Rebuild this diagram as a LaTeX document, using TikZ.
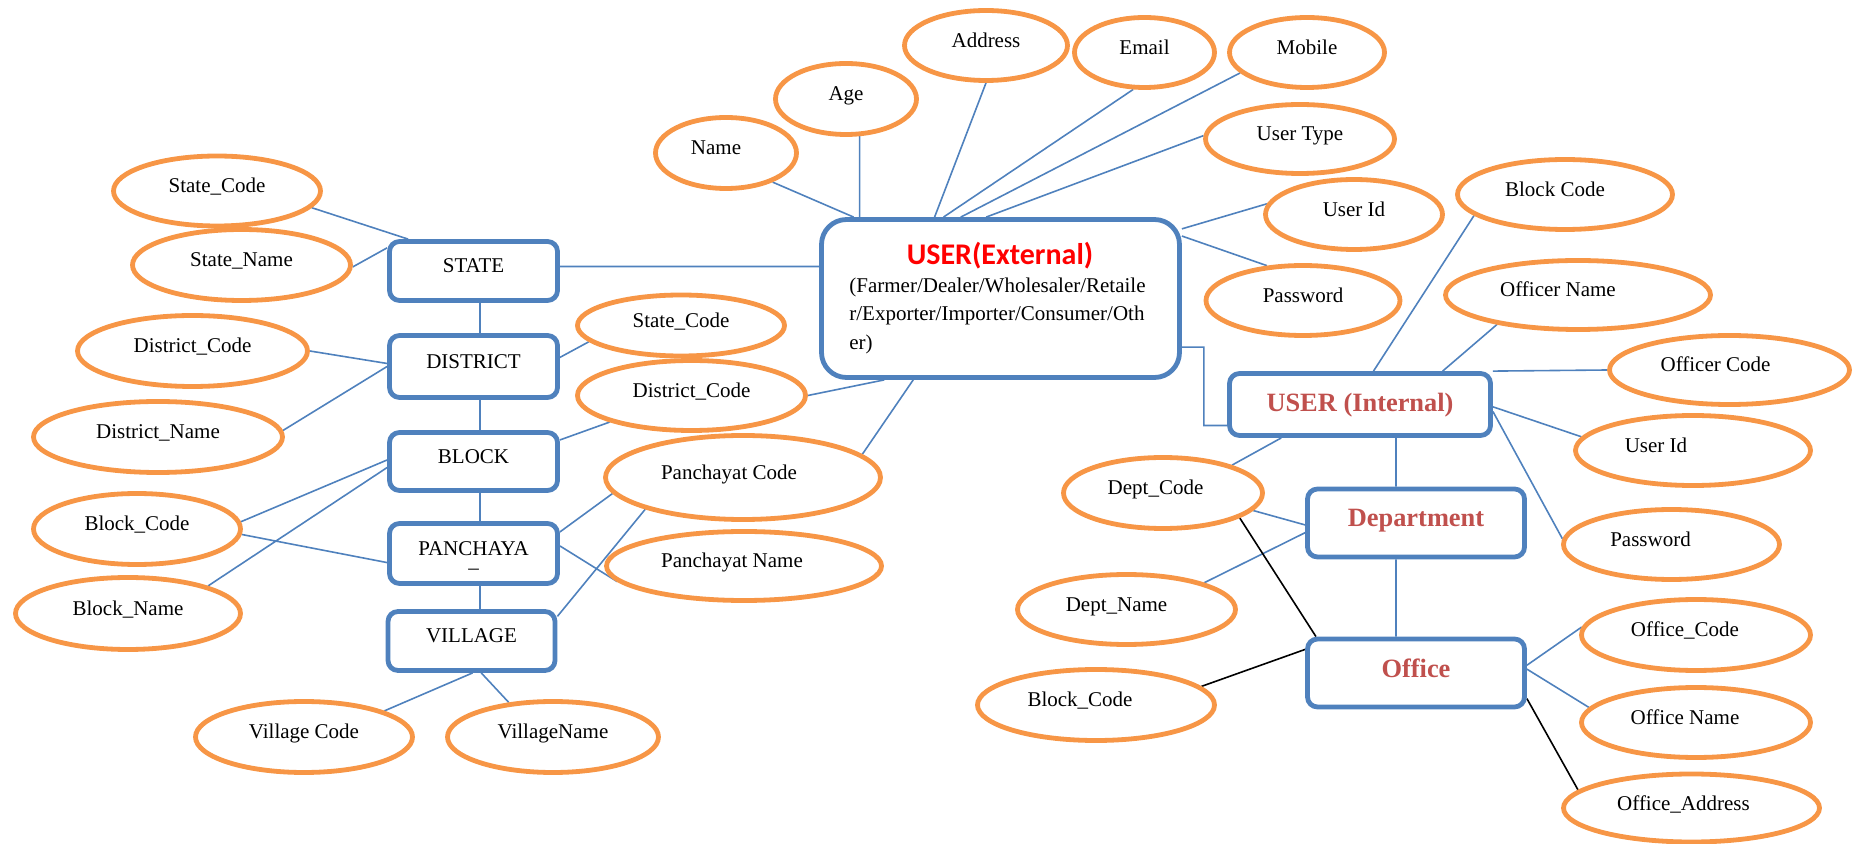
\documentclass[tikz,border=0pt]{standalone}
\usepackage{fontspec}
\setmainfont{Liberation Serif}
\newfontfamily\titlefont{Carlito}
\usetikzlibrary{shapes.geometric}
\definecolor{erblue}{HTML}{4F81BD}
\definecolor{erorange}{HTML}{F79646}
\definecolor{erred}{HTML}{FF0000}
\definecolor{erbrick}{HTML}{C0504D}
\pgfdeclarelayer{background}
\pgfsetlayers{background,main}
\tikzset{
  attr/.style={ellipse, draw=erorange, line width=2.4pt, fill=white, inner sep=0pt,
    font=\fontsize{10.5}{12.6}\selectfont, text height=7pt, text depth=5pt},
  sz/.style 2 args={minimum width=#1pt, minimum height=#2pt},
  entity/.style={rectangle, rounded corners=5pt, draw=erblue, line width=2.4pt, fill=white,
    inner sep=0pt, font=\fontsize{10.5}{12.6}\selectfont, text height=7pt, text depth=5pt},
  bigentity/.style={entity, font=\fontsize{13.2}{15}\selectfont\bfseries, text=erbrick,
    text height=9pt, text depth=5pt},
  plain/.style={inner sep=0pt, font=\fontsize{10.5}{12.6}\selectfont},
  link/.style={draw=erblue, line width=0.8pt},
  blink/.style={draw=black, line width=0.8pt},
}
\begin{document}
\begin{tikzpicture}[x=0.5pt,y=-0.5pt]
\useasboundingbox (0,0) rectangle (1860,844);

% left hierarchy: state / district / block / panchayat / village
\node[entity, sz={84}{29.5}] (state) at (473.5,271) {STATE};
\node[entity, sz={84}{31}] (district) at (473.5,366.5) {DISTRICT};
\node[entity, sz={84}{29}] (block) at (473.5,461.5) {BLOCK};
% the entity name wraps: its last character falls onto a second line
\node[entity, sz={84}{30}] (panch) at (473.5,553.5)
  {\ooalign{PANCHAYA\cr\hfil\raisebox{-6.25pt}{\_}\hfil\cr}};
\node[entity, sz={83.5}{29.5}] (village) at (471.5,641) {VILLAGE};

\node[attr, sz={103.5}{35}] (scode) at (217,191) {State\_Code};
\node[attr, sz={109}{35.5}] (sname) at (241.5,265) {State\_Name};
\node[attr, sz={115}{35.5}] (dcode) at (192.5,351) {District\_Code};
\node[attr, sz={124.5}{35.5}] (dname) at (158,437) {District\_Name};
\node[attr, sz={103.5}{35.5}] (bcode) at (137,529) {Block\_Code};
\node[attr, sz={112.5}{36}] (bname) at (128,613.5) {Block\_Name};
\node[attr, sz={108.5}{35.5}] (vcode) at (304,737) {Village Code};
\node[attr, sz={105.5}{35.5}] (vname) at (553,737) {VillageName};
\node[attr, sz={103.5}{30.5}] (scode2) at (681,325.5) {State\_Code};
\node[attr, sz={114}{35}] (dcode2) at (691.5,395.5) {District\_Code};
\node[attr, sz={137.5}{42}] (pcode) at (743,477.5) {Panchayat Code\hspace*{14pt}};
\node[attr, sz={137.5}{34.5}] (pname) at (744,566) {Panchayat Name\hspace*{12pt}};

% external user
\node[entity, rounded corners=12.5pt, sz={179}{79}] (uext) at (1000.5,298.5) {};
\node[font=\titlefont\bfseries\fontsize{15}{18}\selectfont, text=erred, inner sep=0pt, anchor=base]
  (uextt) at (1000,265) {USER(External)};
\node[plain, anchor=base west] (uextl1) at (849,292.5) {(Farmer/Dealer/Wholesaler/Retaile};
\node[plain, anchor=base west] (uextl2) at (849,321) {r/Exporter/Importer/Consumer/Oth};
\node[plain, anchor=base west] (uextl3) at (849,349.5) {er)};

\node[attr, sz={70.5}{35.5}] (name) at (726,153) {Name\hspace*{10pt}};
\node[attr, sz={70.5}{35.5}] (age) at (846,99) {Age};
\node[attr, sz={81.5}{35}] (addr) at (986,45.5) {Address};
\node[attr, sz={70}{35}] (email) at (1144.5,52.5) {Email};
\node[attr, sz={77.5}{35}] (mobile) at (1307,52.5) {Mobile};
\node[attr, sz={94.5}{34.5}] (utype) at (1300,139) {User Type};
\node[attr, sz={88.5}{35}] (uid) at (1354,214.5) {User Id};
\node[attr, sz={97}{35}] (pwd) at (1303,300.5) {Password};

% internal user, department, office
\node[bigentity, sz={130.5}{31}, text height=10pt, text depth=3pt] (uint) at (1360,404.5) {USER (Internal)};
\node[bigentity, sz={108.5}{34}] (dept) at (1416,523) {Department};
\node[bigentity, sz={108.5}{34}] (office) at (1416,673) {Office};

\node[attr, sz={107.5}{35}] (blkcode) at (1565,194.5) {Block Code\hspace*{10pt}};
\node[attr, sz={132.5}{34.5}] (offname) at (1578,295) {Officer Name\hspace*{20pt}};
\node[attr, sz={120}{34.5}] (offcode) at (1729.5,370) {Officer Code\hspace*{14pt}};
\node[attr, sz={117.5}{35}] (uid2) at (1693,450.5) {User Id\hspace*{37pt}};
\node[attr, sz={108}{35}] (pwd2) at (1671.5,544.5) {Password\hspace*{21pt}};
\node[attr, sz={114.5}{35.5}] (ocode) at (1696,635) {Office\_Code\hspace*{11pt}};
\node[attr, sz={114.5}{35}] (oname) at (1696,722.5) {Office Name\hspace*{11pt}};
\node[attr, sz={128}{34}] (oaddr) at (1691.5,808) {Office\_Address\hspace*{8pt}};
\node[attr, sz={99.5}{35.5}] (deptcode) at (1163,493) {Dept\_Code\hspace*{7.5pt}};
\node[attr, sz={109}{35}] (deptname) at (1126.5,609.5) {Dept\_Name\hspace*{10pt}};
\node[attr, sz={118.5}{35.5}] (blkcode2) at (1096,705) {Block\_Code\hspace*{16pt}};

\begin{pgfonlayer}{background}
\path[link]
  (scode.-10) -- (state.154)
  (sname.-1) -- (state.165)
  (state.3) -- (state.3 -| uext.west)
  ([xshift=3.25pt]state.south) -- ([xshift=3.25pt]district.north)
  (dcode.east) -- (district.178)
  (dname.3) -- (district.west)
  (district.6) -- (scode2.-170)
  ([xshift=3.25pt]district.south) -- ([xshift=3.25pt]block.north)
  (block.14) -- (dcode2.-162)
  (bcode.4) -- (block.179)
  (bcode.-3) -- (panch.-174.5)
  (bname.19) -- (block.-176)
  ([xshift=3.25pt]block.south) -- ([xshift=3.25pt]panch.north)
  (panch.14) -- (pcode.-173)
  (panch.5) -- (pname.-173)
  ([xshift=3.25pt]panch.south) -- ([xshift=3.25pt]panch.south |- village.north)
  (village.16) -- (pcode.-162)
  (village.-88) -- (vcode.18)
  (village.-73) -- (vname.142)
  (dcode2.east) -- (uext.-145)
  (uext.-137) -- (pcode.11)
  (name.-32) -- (uext.151)
  (age.-70) -- (age.-70 |- uext.north)
  (addr.south) -- (uext.129.5)
  (email.-107.5) -- (uext.125)
  (mobile.-163) -- (uext.116)
  (utype.178) -- (uext.100)
  (uext.21) -- (uid.173)
  (uext.19) -- (pwd.136)
  (uext.-15) -- ++(11pt,0) |- (uint.-171)
  (uint.68) -- (blkcode.-167)
  (uint.22) -- (offname.-160.6)
  (uint.north east) -- (offcode.west)
  (uint.-1) -- (uid2.173.5)
  (uint.-3) -- (pwd2.177.5)
  (uint.-157) -- (deptcode.22)
  ([xshift=-10pt]dept.north) -- ([xshift=-10pt]dept.north |- uint.south)
  (deptcode.-11) -- (dept.-179)
  (deptname.19) -- (dept.-175)
  ([xshift=-10pt]office.north) -- ([xshift=-10pt]office.north |- dept.south)
  (office.4) -- (ocode.176)
  (office.2) -- (oname.172);
\path[blink]
  (deptcode.-18) -- (office.160.5)
  (blkcode2.10) -- (office.168)
  (office.-13) -- (oaddr.171);
\end{pgfonlayer}
\end{tikzpicture}
\end{document}
